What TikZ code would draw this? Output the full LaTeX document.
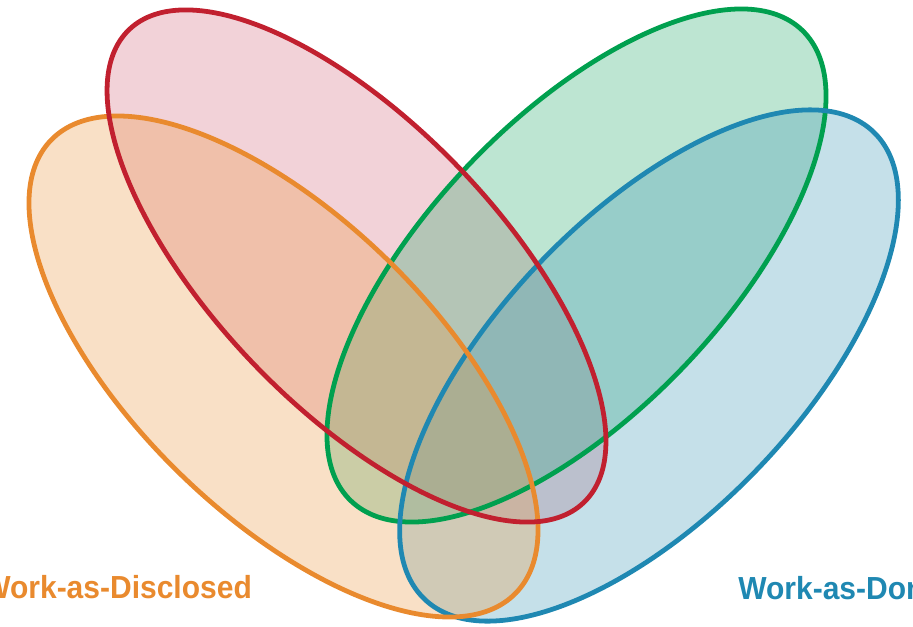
\documentclass[tikz,border=0pt]{standalone}
\usepackage{fontspec}
\newfontfamily\lblfont[FakeStretch=0.94]{Liberation Sans}
\usetikzlibrary{positioning}
\definecolor{discline}{HTML}{E98A2E}
\definecolor{discfill}{HTML}{EB9841}
\definecolor{redline}{HTML}{C1202F}
\definecolor{redfill}{HTML}{D4697D}
\definecolor{greenline}{HTML}{00A04F}
\definecolor{greenfill}{HTML}{26A869}
\definecolor{doneline}{HTML}{1F88B2}
\definecolor{donefill}{HTML}{3E98B6}
\tikzset{
  wfill/.style={fill opacity=0.3},
  wline/.style={line width=3.4pt},
  wlbl/.style={font=\lblfont\bfseries\fontsize{22.7}{26}\selectfont,
               inner sep=0pt,anchor=base west},
  % the four sets share one size
  redset/.style={shift={(R)},rotate=-46.1},
  greenset/.style={shift={(G)},rotate=46.2},
  doneset/.style={shift={(B)},rotate=46.1},
  discset/.style={shift={(O)},rotate=-44.3},
}

\begin{document}
\begin{tikzpicture}[x=0.025cm,y=0.025cm]
  \useasboundingbox (0,0) rectangle (913,-626);
  \clip (0,0) rectangle (913,-626);

  \coordinate (R) at (356.5,-266);    % red, upper left
  \coordinate (G) at (576.5,-265.5);  % green, upper right
  \coordinate (B) at (649,-365.5);    % work-as-done
  \coordinate (O) at (283.5,-366.5);  % work-as-disclosed

  % fills first
  \fill[wfill,redfill,redset]     (0,0) ellipse[x radius=328,y radius=142];
  \fill[wfill,greenfill,greenset] (0,0) ellipse[x radius=326,y radius=147.5];
  \fill[wfill,donefill,doneset]   (0,0) ellipse[x radius=324,y radius=150];
  \fill[wfill,discfill,discset]   (0,0) ellipse[x radius=324.5,y radius=149];

  % outlines on top
  \draw[wline,greenline,greenset] (0,0) ellipse[x radius=326,y radius=147.5];
  \draw[wline,doneline,doneset]   (0,0) ellipse[x radius=324,y radius=150];
  \draw[wline,discline,discset]   (0,0) ellipse[x radius=324.5,y radius=149];
  \draw[wline,redline,redset]     (0,0) ellipse[x radius=328,y radius=142];

  % set labels, running off the page edges
  \node[wlbl,text=discline] (disclosed) at (-18,-598) {Work-as-Disclosed};
  \node[wlbl,text=doneline] (done) at (738,-599) {Work-as-Done};
\end{tikzpicture}
\end{document}
